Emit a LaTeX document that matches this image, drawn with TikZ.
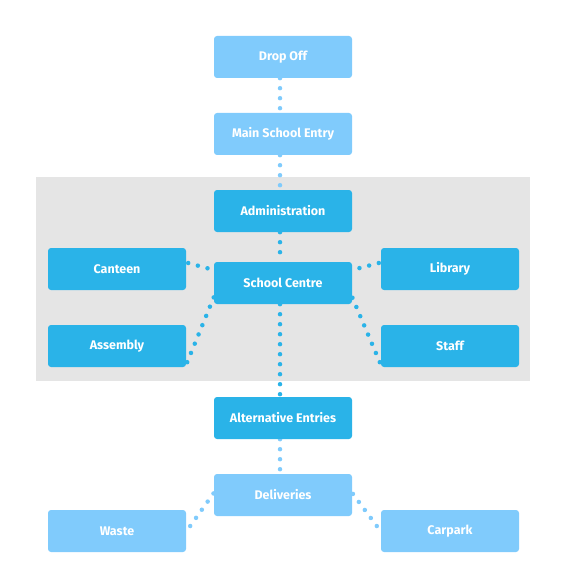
\documentclass[tikz,border=0pt]{standalone}
\usepackage{fontspec}
\setsansfont{Fira Sans}
\usetikzlibrary{positioning, backgrounds}
\definecolor{paleblue}{HTML}{80CBFC}
\definecolor{deepblue}{HTML}{2AB3E8}
\definecolor{zonegray}{HTML}{E5E5E5}

\begin{document}
\begin{tikzpicture}[
            x = 1pt,
            y = -1pt,
            node distance = 77pt,
            on grid,
            area/.style = {rectangle, rounded corners = 3pt, minimum width = 138pt,
                minimum height = 42pt, inner sep = 0pt, text = white,
                font = \sffamily\bfseries\fontsize{12.5}{14}\selectfont},
            pale/.style = {area, fill = paleblue},
            deep/.style = {area, fill = deepblue},
            dots/.style = {line width = 4.5pt, line cap = round,
                dash pattern = on 0pt off 10pt},
            palelink/.style = {dots, draw = paleblue},
            deeplink/.style = {dots, draw = deepblue}
        ]
        \useasboundingbox (0,0) rectangle (565,580);

        \node[pale] (drop) at (283,57) {Drop Off};
        \node[pale, below=of drop] (main) {Main School Entry};
        \node[deep, below=of main] (admin) {Administration};
        \node[deep, below=72pt of admin] (centre) {School Centre};
        \node[deep, left=166pt of centre, yshift=14pt] (canteen) {Canteen};
        \node[deep, right=167pt of centre, yshift=14pt] (library) {Library};
        \node[deep, left=166pt of centre, yshift=-63pt] (assembly) {Assembly};
        \node[deep, right=167pt of centre, yshift=-63pt] (staff) {Staff};
        \node[deep, below=135pt of centre] (alt) {Alternative Entries};
        \node[pale, below=of alt] (deliv) {Deliveries};
        \node[pale, left=166pt of deliv, yshift=-36pt] (waste) {Waste};
        \node[pale, right=167pt of deliv, yshift=-36pt] (carpark) {Carpark};

        \begin{scope}[on background layer]
            \fill[zonegray] (36,177) rectangle (530,381);

            % spine, a little left of the box centres
            \draw[palelink] ([xshift=-3pt]drop.south) -- ([xshift=-3pt]main.north);
            \draw[palelink] ([xshift=-3pt]main.south) -- ([xshift=-3pt]admin.north);
            \draw[deeplink] ([xshift=-3pt]admin.south) -- ([xshift=-3pt]centre.north);
            \draw[deeplink] ([xshift=-3pt]centre.south) -- ([xshift=-3pt]alt.north);
            \draw[palelink] ([xshift=-3pt]alt.south) -- ([xshift=-3pt]deliv.north);

            \draw[deeplink] ([shift={(2pt,6pt)}]canteen.east) -- ([yshift=13pt]centre.west);
            \draw[deeplink] ([shift={(-2pt,6pt)}]library.west) -- ([yshift=13pt]centre.east);
            \draw[deeplink] ([shift={(1pt,5pt)}]assembly.south east) -- ([yshift=7pt]centre.south west);
            \draw[deeplink] ([shift={(-1pt,5pt)}]staff.south west) -- ([yshift=7pt]centre.south east);

            \draw[palelink] ([shift={(4pt,5pt)}]waste.east) -- ([yshift=2pt]deliv.west);
            \draw[palelink] ([shift={(-4pt,5pt)}]carpark.west) -- ([yshift=2pt]deliv.east);
        \end{scope}
    \end{tikzpicture}
\end{document}
